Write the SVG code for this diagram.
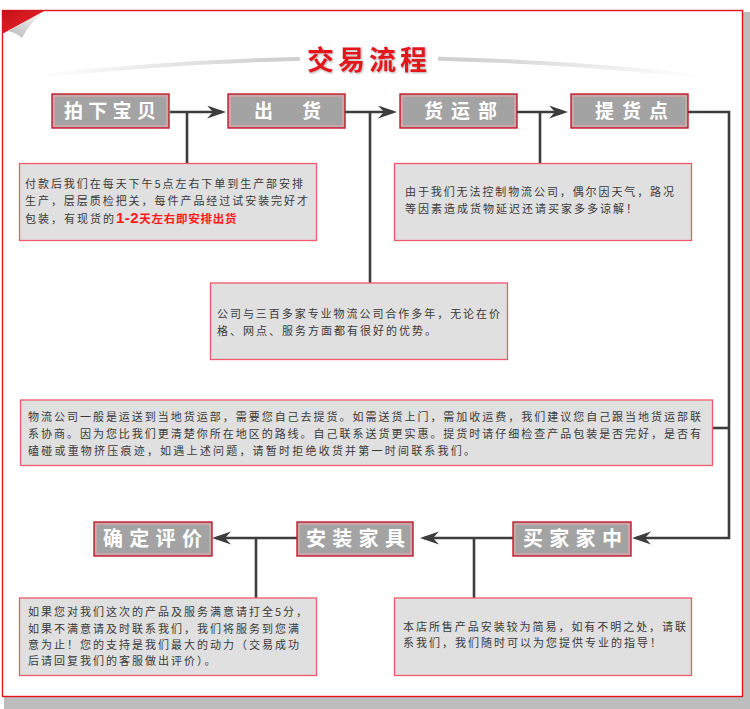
<svg xmlns="http://www.w3.org/2000/svg" width="750" height="709" viewBox="0 0 750 709">
<defs>
<style>
.frame{fill:#fff;stroke:#e3141c;stroke-width:1.4}
.step rect.o{fill:#a3a3a3;stroke:#c8192b;stroke-width:1.4}
.step rect.i{fill:none;stroke:#f2a9b0;stroke-width:1}
.step text{font-family:"Noto Sans CJK SC","Noto Sans",sans-serif;font-weight:700;fill:#fff;font-size:19px}
.note rect{fill:#e0e0e0;stroke:#f2596a;stroke-width:1.3}
.note text{font-family:"Noto Sans CJK SC","Noto Sans",sans-serif;fill:#3a3a3a;font-size:11px;letter-spacing:2px}
.con path{fill:none;stroke:#3d3d3d;stroke-width:2.6}
.title{font-family:"Noto Sans CJK SC","Noto Sans",sans-serif;font-weight:700;fill:#e3161f;font-size:27px;letter-spacing:4px}
</style>
<marker id="arr" markerUnits="userSpaceOnUse" markerWidth="20" markerHeight="14" refX="15" refY="6.5" orient="auto">
<path d="M0,0 L19,6.5 L0,13 L6,6.5 Z" fill="#3d3d3d"/>
</marker>
<linearGradient id="sw" x1="0" x2="1" y1="0" y2="0">
<stop offset="0" stop-color="#d4d4d4" stop-opacity="0"/>
<stop offset="0.35" stop-color="#d0d0d0"/>
<stop offset="0.65" stop-color="#d0d0d0"/>
<stop offset="1" stop-color="#d4d4d4" stop-opacity="0"/>
</linearGradient>
<linearGradient id="rib" x1="0" y1="0" x2="1" y2="1">
<stop offset="0" stop-color="#c70f18"/>
<stop offset="1" stop-color="#ec2a2e"/>
</linearGradient>
<linearGradient id="fold" x1="0" y1="1" x2="1" y2="0">
<stop offset="0" stop-color="#b8b8b8"/>
<stop offset="1" stop-color="#ffffff"/>
</linearGradient>
<clipPath id="gap"><path clip-rule="evenodd" d="M0,0H750V709H0Z M300,38H438V82H300Z"/></clipPath>
<filter id="ts" x="-10%" y="-20%" width="120%" height="140%">
<feDropShadow dx="1" dy="1" stdDeviation="0.8" flood-color="#777" flood-opacity="0.6"/>
</filter>
</defs>

<g id="frame">
<rect x="4" y="12" width="746" height="697" fill="#bdbdbd"/>
<rect class="frame" x="2.5" y="10.5" width="740" height="686"/>
<polygon points="2,10 46,10 4,33 2,33" fill="url(#rib)"/>
<path d="M46,11 L8,31 Q17,33 22,38 Q30,22 46,11 Z" fill="url(#fold)"/>
</g>

<g id="title">
<path d="M40,76 Q370,40 700,76" fill="none" stroke="url(#sw)" stroke-width="4" clip-path="url(#gap)"/>
<text class="title" x="307" y="70" filter="url(#ts)">交易流程</text>
</g>

<g id="connectors" class="con">
<path d="M170,112 H222" marker-end="url(#arr)"/>
<path d="M345,112 H393" marker-end="url(#arr)"/>
<path d="M517,112 H564" marker-end="url(#arr)"/>
<path d="M187,112 V163"/>
<path d="M370,112 V283"/>
<path d="M540,112 V163"/>
<path d="M688,112 H729 V538 H636" marker-end="url(#arr)"/>
<path d="M729,428 H712"/>
<path d="M513,538 H424" marker-end="url(#arr)"/>
<path d="M297,538 H216" marker-end="url(#arr)"/>
<path d="M474,538 V598"/>
<path d="M256,538 V598"/>
</g>

<g id="step1" class="step">
<rect class="o" x="52" y="94" width="117" height="34"/>
<rect class="i" x="54" y="96" width="113" height="30"/>
<text x="64" y="118" style="letter-spacing:5.3px">拍下宝贝</text>
</g>
<g id="step2" class="step">
<rect class="o" x="228" y="94" width="117" height="34"/>
<rect class="i" x="230" y="96" width="113" height="30"/>
<text x="254" y="118" style="letter-spacing:5px">出　货</text>
</g>
<g id="step3" class="step">
<rect class="o" x="400" y="94" width="117" height="34"/>
<rect class="i" x="402" y="96" width="113" height="30"/>
<text x="424" y="118" style="letter-spacing:8px">货运部</text>
</g>
<g id="step4" class="step">
<rect class="o" x="571" y="94" width="117" height="34"/>
<rect class="i" x="573" y="96" width="113" height="30"/>
<text x="595" y="118" style="letter-spacing:8px">提货点</text>
</g>
<g id="step5" class="step">
<rect class="o" x="513" y="522" width="118" height="34"/>
<rect class="i" x="515" y="524" width="114" height="30"/>
<text x="523" y="546" style="font-size:20px;letter-spacing:6.3px">买家家中</text>
</g>
<g id="step6" class="step">
<rect class="o" x="297" y="522" width="116" height="34"/>
<rect class="i" x="299" y="524" width="112" height="30"/>
<text x="306" y="546" style="font-size:20px;letter-spacing:6.3px">安装家具</text>
</g>
<g id="step7" class="step">
<rect class="o" x="94" y="522" width="118" height="34"/>
<rect class="i" x="96" y="524" width="114" height="30"/>
<text x="103" y="546" style="font-size:20px;letter-spacing:6.3px">确定评价</text>
</g>

<g id="note1" class="note">
<rect x="19.5" y="163.5" width="297" height="77"/>
<text x="25" y="187.5" textLength="280" lengthAdjust="spacing">付款后我们在每天下午5点左右下单到生产部安排</text>
<text x="25" y="204.5" textLength="285" lengthAdjust="spacing">生产，层层质检把关，每件产品经过试安装完好才</text>
<text x="25" y="222.5">包装，有现货的<tspan style="font-family:'Liberation Sans',sans-serif;font-weight:700;font-size:15px;letter-spacing:0.5px;fill:#ff1a1a">1-2</tspan><tspan style="font-weight:700;font-size:11.5px;letter-spacing:0.75px;fill:#ff1a1a">天左右即安排出货</tspan></text>
</g>

<g id="note2" class="note">
<rect x="394.5" y="163.5" width="297" height="77"/>
<text x="405" y="196" textLength="271" lengthAdjust="spacing">由于我们无法控制物流公司，偶尔因天气，路况</text>
<text x="405" y="212.5">等因素造成货物延迟还请买家多多谅解！</text>
</g>

<g id="note3" class="note">
<rect x="210.5" y="283" width="297" height="76.5"/>
<text x="217" y="318" textLength="285" lengthAdjust="spacing">公司与三百多家专业物流公司合作多年，无论在价</text>
<text x="217" y="335">格、网点、服务方面都有很好的优势。</text>
</g>

<g id="note4" class="note">
<rect x="20.5" y="400" width="692" height="65.5"/>
<text x="28" y="420.5" textLength="675" lengthAdjust="spacing">物流公司一般是运送到当地货运部，需要您自己去提货。如需送货上门，需加收运费，我们建议您自己跟当地货运部联</text>
<text x="28" y="437.5" textLength="675" lengthAdjust="spacing">系协商。因为您比我们更清楚你所在地区的路线。自己联系送货更实惠。提货时请仔细检查产品包装是否完好，是否有</text>
<text x="28" y="454.5" textLength="449" lengthAdjust="spacing">磕碰或重物挤压痕迹，如遇上述问题，请暂时拒绝收货并第一时间联系我们。</text>
</g>

<g id="note5" class="note">
<rect x="19.5" y="598" width="297" height="77.5"/>
<text x="28" y="616">如果您对我们这次的产品及服务满意请打全5分，</text>
<text x="28" y="633">如果不满意请及时联系我们，我们将服务到您满</text>
<text x="28" y="649">意为止！您的支持是我们最大的动力（交易成功</text>
<text x="28" y="665">后请回复我们的客服做出评价）。</text>
</g>

<g id="note6" class="note">
<rect x="394.5" y="598" width="297" height="77.5"/>
<text x="403" y="631" textLength="285" lengthAdjust="spacing">本店所售产品安装较为简易，如有不明之处，请联</text>
<text x="403" y="647">系我们，我们随时可以为您提供专业的指导！</text>
</g>
</svg>
